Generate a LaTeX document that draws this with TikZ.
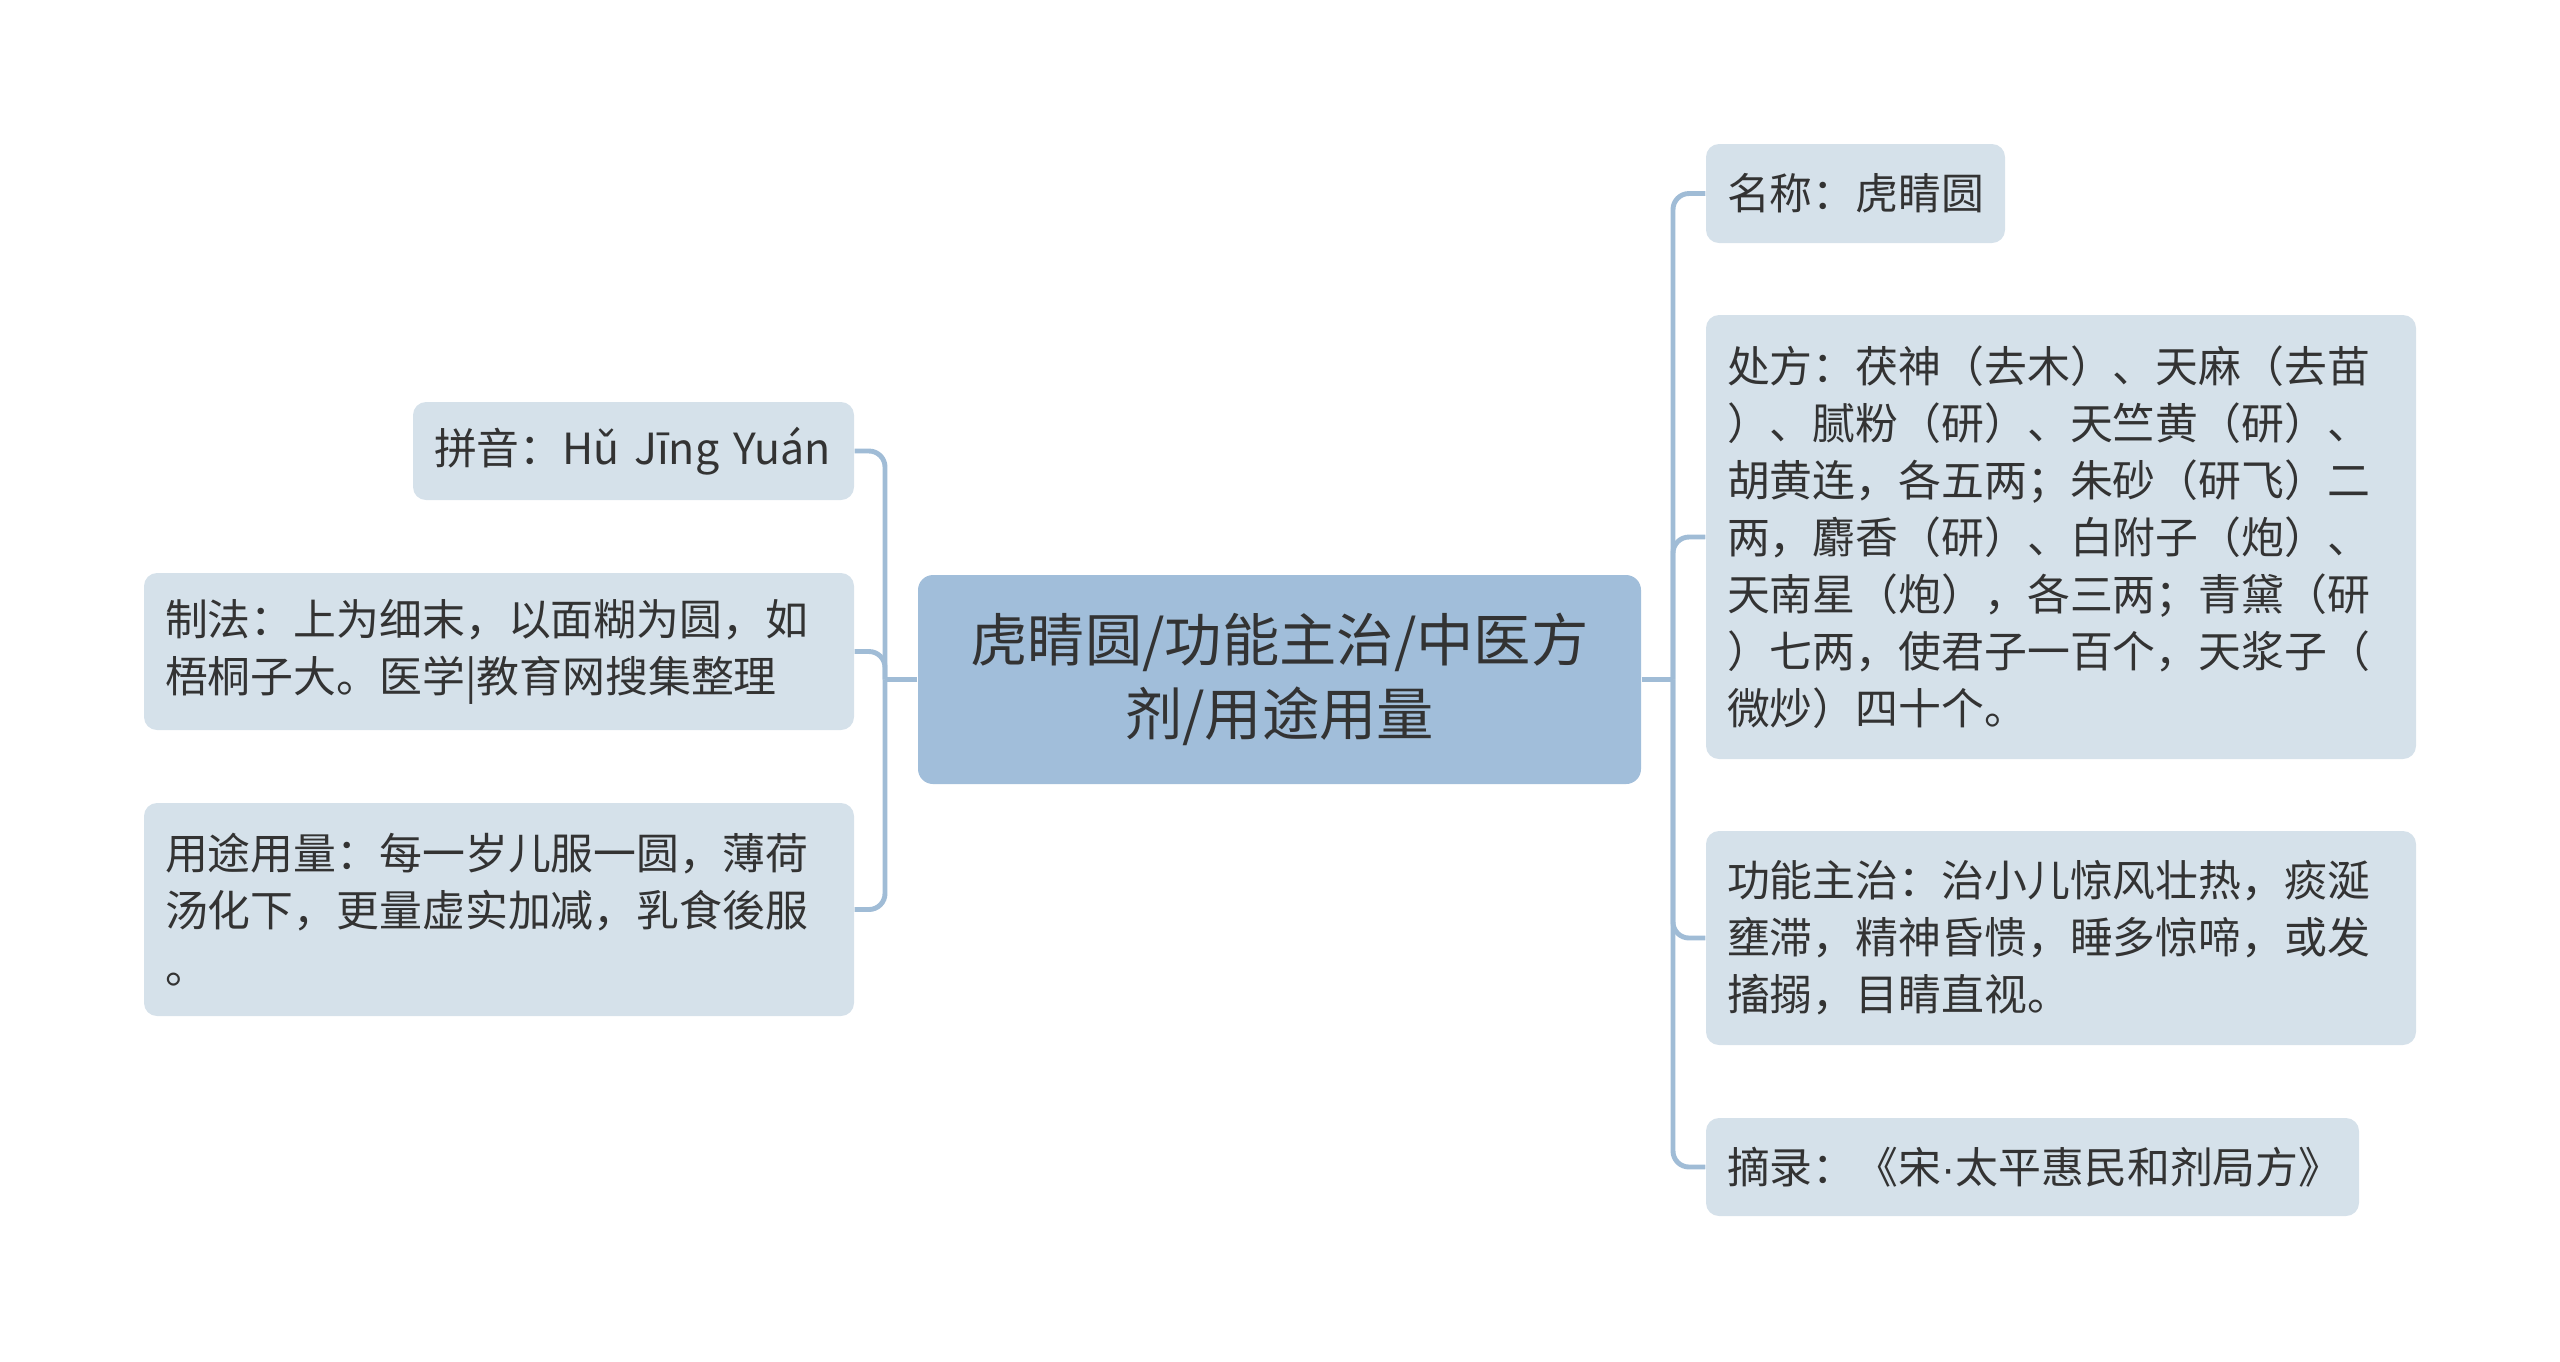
\documentclass[tikz,border=0pt]{standalone}
\usepackage{fontspec}
\setmainfont{Noto Sans CJK SC}
\newfontfamily\dotfont{Liberation Sans}
\definecolor{rootblue}{RGB}{161,190,218}
\definecolor{leafgray}{RGB}{213,225,234}
\definecolor{linkblue}{RGB}{160,188,214}
\definecolor{inkgray}{RGB}{51,51,51}
\begin{document}
\begin{tikzpicture}[
    rootbox/.style={fill=rootblue,rounded corners=0.15cm,text=inkgray,align=center,
        minimum width=7.23cm,minimum height=2.09cm,inner sep=0pt,
        font=\fontsize{16.3}{20.9}\selectfont},
    leafbox/.style={fill=leafgray,rounded corners=0.13cm,text=inkgray,align=left,
        inner xsep=0.21cm,inner ysep=0pt,font=\fontsize{12.2}{16.2}\selectfont},
    link/.style={draw=linkblue,line width=1.4pt,rounded corners=0.16cm}
]
\useasboundingbox (0,0) rectangle (25.6,-13.61);
% centre
\node[rootbox] (root) at (12.795,-6.795) {虎睛圆/功能主治/中医方\\剂/用途用量};
% right side
\node[leafbox,text width=2.57cm,minimum width=2.99cm,minimum height=0.99cm] (name) at (18.555,-1.935) {名称：虎睛圆};
\node[leafbox,text width=6.68cm,minimum width=7.10cm,minimum height=4.44cm] (recipe) at (20.61,-5.37)
    {处方：茯神（去木）、天麻（去苗\\）、腻粉（研）、天竺黄（研）、\\胡黄连，各五两；朱砂（研飞）二\\两，麝香（研）、白附子（炮）、\\天南星（炮），各三两；青黛（研\\）七两，使君子一百个，天浆子（\\微炒）四十个。};
\node[leafbox,text width=6.68cm,minimum width=7.10cm,minimum height=2.14cm] (effect) at (20.61,-9.38)
    {功能主治：治小儿惊风壮热，痰涎\\壅滞，精神昏愦，睡多惊啼，或发\\搐搦，目睛直视。};
\node[leafbox,text width=6.11cm,minimum width=6.53cm,minimum height=0.98cm] (source) at (20.325,-11.67)
    {摘录：《宋{\dotfont ·}太平惠民和剂局方》};
% left side
\node[leafbox,text width=3.99cm,minimum width=4.41cm,minimum height=0.98cm] (pinyin) at (6.335,-4.51)
    {拼音：Hǔ Jīng Yuán};
\node[leafbox,text width=6.68cm,minimum width=7.10cm,minimum height=1.57cm] (method) at (4.99,-6.515)
    {制法：上为细末，以面糊为圆，如\\梧桐子大。医学|教育网搜集整理};
\node[leafbox,text width=6.68cm,minimum width=7.10cm,minimum height=2.13cm] (usage) at (4.99,-9.095)
    {用途用量：每一岁儿服一圆，薄荷\\汤化下，更量虚实加减，乳食後服\\。};
% branches
\coordinate (rj) at (16.73,-6.795);
\coordinate (lj) at (8.85,-6.795);
\draw[link] (root.east) -- (rj);
\draw[link] (root.west) -- (lj);
\foreach \Leaf in {name,recipe,effect,source}{
    \draw[link] (rj) |- (\Leaf.west);
};
\foreach \Leaf in {pinyin,method,usage}{
    \draw[link] (lj) |- (\Leaf.east);
};
\end{tikzpicture}
\end{document}
